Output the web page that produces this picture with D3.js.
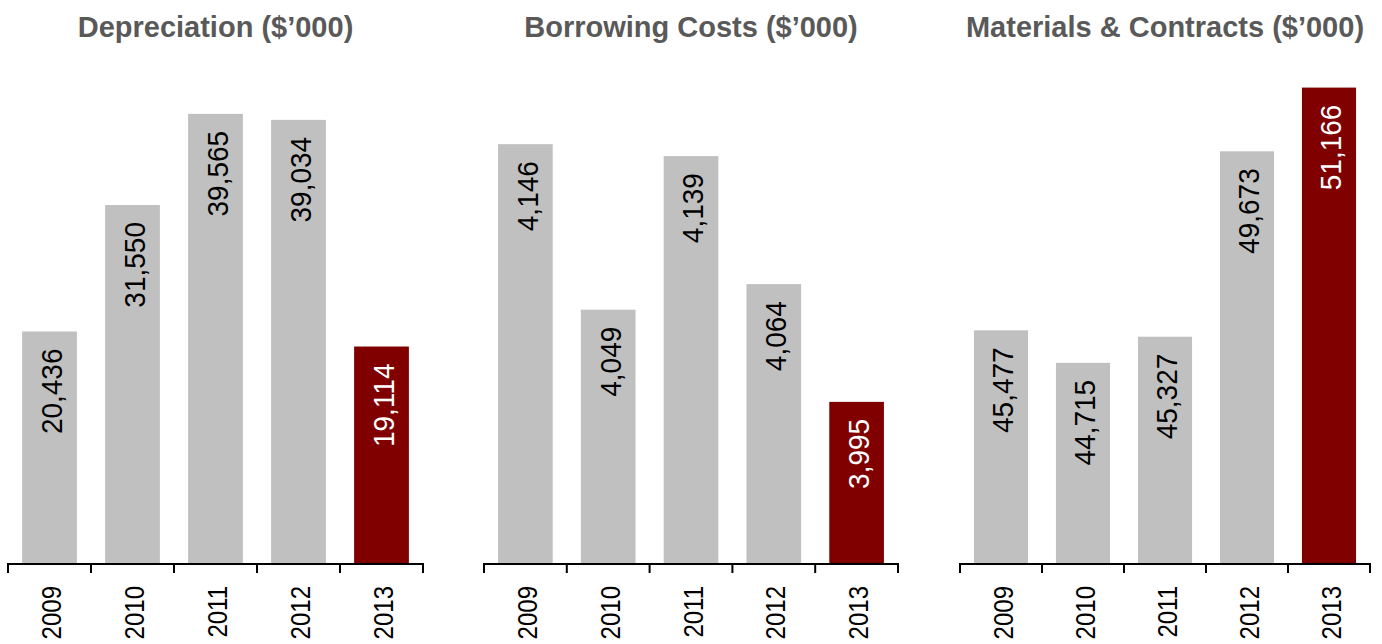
<!DOCTYPE html>
<html>
<head>
<meta charset="utf-8">
<script src="https://cdn.jsdelivr.net/npm/d3@7"></script>
<style>
  html, body { margin: 0; padding: 0; background: #fff; }
  svg { display: block; }
</style>
</head>
<body>
<svg id="chart" width="1382" height="644"></svg>
<script>
// Five years of expense figures, $'000
const years = ["2009", "2010", "2011", "2012", "2013"];

const depreciation = [20436, 31550, 39565, 39034, 19114];
const borrowingCosts = [4146, 4049, 4139, 4064, 3995];
const materialsContracts = [45477, 44715, 45327, 49673, 51166];

const titles = ["Depreciation ($\u2019000)", "Borrowing Costs ($\u2019000)", "Materials & Contracts ($\u2019000)"];
const domains = [[0, 45000], [3900, 4200], [40000, 52000]];

const panels = [
  { title: titles[0], values: depreciation, domain: domains[0], x0: 8, x1: 423 },
  { title: titles[1], values: borrowingCosts, domain: domains[1], x0: 484, x1: 898 },
  { title: titles[2], values: materialsContracts, domain: domains[2], x0: 960, x1: 1370 }
];

const svg = d3.select("#chart");
const baseY = 564, topY = 52;
const grey = "#c0c0c0", highlight = "#800000";
const fmt = d3.format(",");
const font = "'Liberation Sans', Arial, Helvetica, sans-serif";

panels.forEach(p => {
  const g = svg.append("g");
  const x = d3.scaleBand().domain(years).range([p.x0, p.x1]).paddingInner(0.34).paddingOuter(0.17);
  const y = d3.scaleLinear().domain(p.domain).range([baseY, topY]);
  const rows = years.map((yr, i) => ({ yr, v: p.values[i], last: i === years.length - 1 }));

  g.append("text")
    .attr("x", (p.x0 + p.x1) / 2)
    .attr("y", 37)
    .attr("text-anchor", "middle")
    .attr("font-family", font)
    .attr("font-weight", "bold")
    .attr("font-size", 29)
    .attr("fill", "#595959")
    .text(p.title);

  g.selectAll("rect.bar").data(rows).join("rect")
    .attr("class", "bar")
    .attr("x", d => x(d.yr))
    .attr("width", x.bandwidth())
    .attr("y", d => y(d.v))
    .attr("height", d => baseY - y(d.v))
    .attr("fill", d => d.last ? highlight : grey);

  // value labels, rotated, inside the top of each bar
  g.selectAll("text.val").data(rows).join("text")
    .attr("class", "val")
    .attr("transform", d => `translate(${x(d.yr) + x.bandwidth() / 2},${y(d.v) + 17}) rotate(-90) scale(1,1.06)`)
    .attr("dy", "0.42em")
    .attr("text-anchor", "end")
    .attr("font-family", font)
    .attr("font-size", 28)
    .attr("fill", d => d.last ? "#ffffff" : "#000000")
    .text(d => fmt(d.v));

  // category axis with boundary ticks
  const step = x.step();
  const bounds = d3.range(years.length + 1).map(i => p.x0 + i * step);
  g.append("line")
    .attr("x1", p.x0).attr("x2", p.x1)
    .attr("y1", baseY).attr("y2", baseY)
    .attr("stroke", "#000").attr("stroke-width", 2);
  g.selectAll("line.tick").data(bounds).join("line")
    .attr("class", "tick")
    .attr("x1", d => d).attr("x2", d => d)
    .attr("y1", baseY - 1).attr("y2", baseY + 9)
    .attr("stroke", "#000").attr("stroke-width", 2);

  g.selectAll("text.yr").data(rows).join("text")
    .attr("class", "yr")
    .attr("transform", d => `translate(${x(d.yr) + x.bandwidth() / 2},${baseY + 22}) rotate(-90) scale(1,1.15)`)
    .attr("dy", "0.42em")
    .attr("text-anchor", "end")
    .attr("font-family", font)
    .attr("font-size", 24)
    .attr("fill", "#000")
    .text(d => d.yr);
});
</script>
</body>
</html>
